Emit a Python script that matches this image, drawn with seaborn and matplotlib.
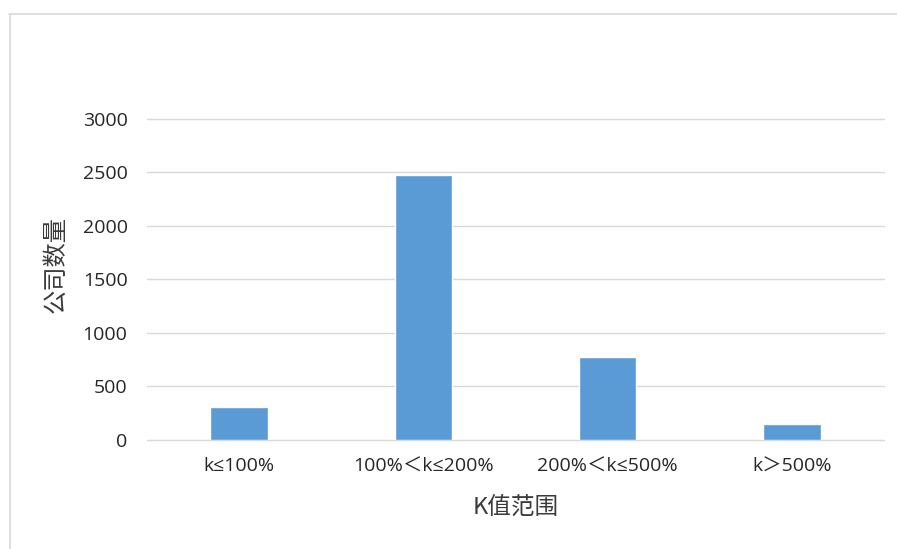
import matplotlib
matplotlib.use("Agg")
import matplotlib.pyplot as plt
import seaborn as sns
import pandas as pd
from matplotlib.lines import Line2D

categories = ["k≤100%", "100%＜k≤200%", "200%＜k≤500%", "k＞500%"]
counts = [308, 2478, 775, 150]
yticks = [0, 500, 1000, 1500, 2000, 2500, 3000]
xlabel = "K值范围"
ylabel = "公司数量"

sns.set_theme(style="white")
plt.rcParams['font.family'] = ['Open Sans', 'Noto Sans CJK SC', 'DejaVu Sans']

df = pd.DataFrame({"cat": categories, "n": counts})

fig = plt.figure(figsize=(8.97, 5.49), dpi=100)
fig.patch.set_facecolor("white")
ax = fig.add_axes([147/897, 1-440/549, (884-147)/897, (440-118.7)/549])

sns.barplot(data=df, x="cat", y="n", color="#5B9BD5", saturation=1, width=0.313, ax=ax, zorder=3)

ax.set_ylim(0, 3000)
ax.set_yticks(yticks)
ax.set_yticklabels([str(v) for v in yticks])
ax.grid(axis="y", color="#D9D9D9", linewidth=1.0)
for gl in ax.get_ygridlines():
    gl.set_clip_on(False)
ax.set_axisbelow(True)
for s in ax.spines.values():
    s.set_visible(False)
ax.tick_params(axis="both", length=0, labelsize=14, colors="#262626")
ax.tick_params(axis="y", pad=14)
ax.tick_params(axis="x", pad=12.5)

cjk = ['Noto Sans CJK SC', 'DejaVu Sans']
ax.set_xlabel(xlabel, fontsize=17, color="#3a3a3a", family=cjk)
ax.set_ylabel(ylabel, fontsize=17.5, color="#3a3a3a", family=cjk)
ax.xaxis.set_label_coords((516-147)/737, (440-508)/321.3)
ax.xaxis.label.set_va("center")
ax.yaxis.set_label_coords((56-147)/737, (440-265)/321.3)
ax.yaxis.label.set_va("center")

# chart frame (top and left edges)
fig.add_artist(Line2D([9/897, 1.0], [1-13.5/549, 1-13.5/549], transform=fig.transFigure, color="#D9D9D9", linewidth=1.2))
fig.add_artist(Line2D([9.5/897, 9.5/897], [0, 1-13.5/549], transform=fig.transFigure, color="#D9D9D9", linewidth=1.2))

fig.savefig("out.png", dpi=100, facecolor="white")
